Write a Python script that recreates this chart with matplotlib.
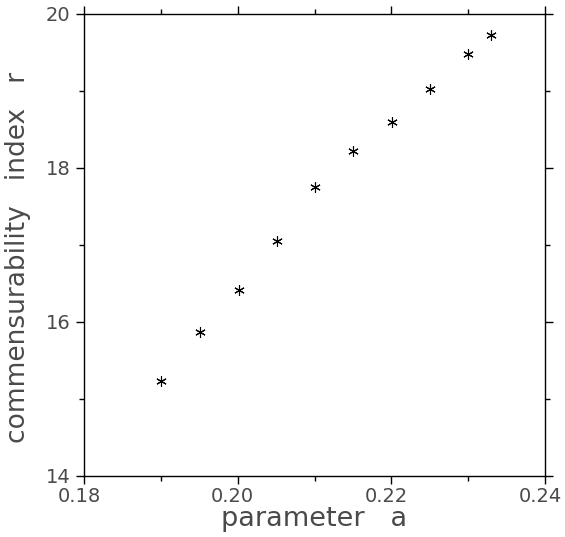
import matplotlib
matplotlib.use("Agg")
from matplotlib import pyplot as plt
from matplotlib.ticker import MultipleLocator
import matplotlib.transforms as mtransforms
import numpy as np

# commensurability index vs parameter a
param_a = [0.190, 0.1951, 0.2002, 0.2051, 0.2101, 0.2150, 0.2201, 0.2250, 0.2300, 0.2330]
index_r = [15.23, 15.87, 16.42, 17.05, 17.75, 18.22, 18.60, 19.03, 19.48, 19.73]

x_ticks = [0.18, 0.20, 0.22, 0.24]
y_ticks = [14, 16, 18, 20]
x_labels = ["0.18", "0.20", "0.22", "0.24"]
y_labels = ["14", "16", "18", "20"]

plt.rcParams["font.family"] = ["DejaVu Sans"]
txt_color = "#4a4a4a"

fig = plt.figure(figsize=(5.65, 5.37), dpi=100)
ax = fig.add_axes([0.1487, 0.1136, 0.8159, 0.8604])

ax.plot(param_a, index_r, linestyle="none", marker=(6, 2, 0), markersize=7.5,
        markeredgewidth=0.8, color="black")

ax.set_xlim(0.18, 0.24)
ax.set_ylim(14, 20)
ax.set_xticks(x_ticks)
ax.set_xticklabels(x_labels)
ax.set_yticks(y_ticks)
ax.set_yticklabels(y_labels)
ax.xaxis.set_minor_locator(MultipleLocator(0.01))
ax.yaxis.set_minor_locator(MultipleLocator(1))

ax.tick_params(which="both", direction="out", top=True, right=True,
               width=1.0, color="black", labelsize=14, labelcolor=txt_color)
ax.tick_params(which="major", length=5.8)
ax.tick_params(which="minor", length=3.6)
ax.tick_params(axis="x", pad=2)
ax.tick_params(axis="y", pad=4)
for sp in ax.spines.values():
    sp.set_linewidth(1.0)

# x tick labels sit a little left of their ticks in the original
shift = mtransforms.ScaledTranslation(-5 / 100, 0, fig.dpi_scale_trans)
for lbl in ax.get_xticklabels():
    lbl.set_transform(lbl.get_transform() + shift)

ax.set_xlabel("parameter   a", fontsize=19.5, color=txt_color, labelpad=0)
ax.set_ylabel("commensurability   index   r", fontsize=19, color=txt_color, labelpad=2)
ax.yaxis.set_label_coords(-0.115, 0.474)

plt.savefig("out.png", dpi=100)
